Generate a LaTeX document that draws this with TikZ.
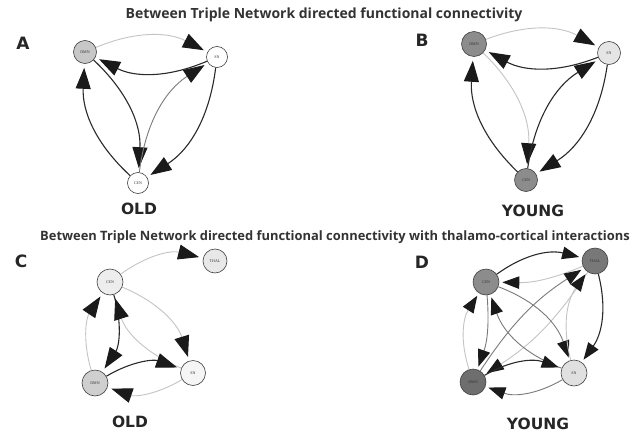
\documentclass[tikz,border=0pt]{standalone}
\usepackage{fontspec}
\setmainfont{Liberation Serif}
\newfontfamily\headfont{Open Sans}
\newfontfamily\tagfont{DejaVu Sans}
\usetikzlibrary{arrows.meta}

\definecolor{edgedark}{HTML}{2A2A2A}
\definecolor{edgemid}{HTML}{7A7A7A}
\definecolor{edgelight}{HTML}{C4C4C4}
\definecolor{tipcol}{HTML}{1A1A1A}

\begin{document}
\begin{tikzpicture}[x=1pt,y=-1pt,
  net/.style={circle, draw=black!75, line width=0.6pt, inner sep=0pt,
    font=\fontsize{4}{4}\selectfont, text=black!80},
  lnk/.style={bend left=25, shorten >=4pt,
    -{Triangle[length=21pt,width=15pt,color=tipcol]}},
  lnksmall/.style={bend left=25, shorten >=3pt,
    -{Triangle[length=17pt,width=12.5pt,color=tipcol]}},
  dk/.style={draw=edgedark, line width=1.1pt},
  md/.style={draw=edgemid, line width=0.9pt},
  lt/.style={draw=edgelight, line width=0.9pt},
  heading/.style={font=\headfont\bfseries\fontsize{14}{16}\selectfont, text=black!80},
  headingwide/.style={font=\headfont\bfseries\fontsize{12.9}{15}\selectfont, text=black!80},
  paneltag/.style={font=\tagfont\bfseries\fontsize{17}{17}\selectfont, text=black!85},
  grouptag/.style={font=\tagfont\bfseries\fontsize{15.5}{16}\selectfont, text=black!85}]

\useasboundingbox (0,0) rectangle (644,436);
\fill[white] (0,0) rectangle (644,436);

% headings
\node[heading] (h1) at (324,15) {Between Triple Network directed functional connectivity};
\node[headingwide] (h2) at (335,237) {Between Triple Network directed functional connectivity with thalamo-cortical interactions};

% ---------- A : old, triple network ----------
\node[paneltag] (tA) at (23,43) {A};
\node[net, fill=black!22, minimum size=23pt] (aD) at (85,52) {DMN};
\node[net, fill=white, minimum size=21pt] (aS) at (217,57) {SN};
\node[net, fill=white, minimum size=21pt] (aC) at (138,183) {CEN};
\node[grouptag] (gA) at (139,209) {OLD};

\draw[lnk, lt] (aD) to (aS);
\draw[lnk, dk] (aS) to (aD);
\draw[lnk, dk] (aD) to (aC);
\draw[lnk, dk] (aC) to (aD);
\draw[lnk, md] (aC) to (aS);
\draw[lnk, dk] (aS) to (aC);

% ---------- B : young, triple network ----------
\node[paneltag] (tB) at (422,40) {B};
\node[net, fill=black!45, minimum size=25pt] (bD) at (474,44) {DMN};
\node[net, fill=black!10, minimum size=23pt] (bS) at (609,53) {SN};
\node[net, fill=black!45, minimum size=23pt] (bC) at (526,180) {CEN};
\node[grouptag] (gB) at (533,211) {YOUNG};

\draw[lnk, lt] (bD) to (bS);
\draw[lnk, dk] (bS) to (bD);
\draw[lnk, lt] (bD) to (bC);
\draw[lnk, dk] (bC) to (bD);
\draw[lnk, dk] (bC) to (bS);
\draw[lnk, dk] (bS) to (bC);

% ---------- C : old, with thalamus ----------
\node[paneltag] (tC) at (21,261) {C};
\node[net, fill=black!7, minimum size=26pt] (cC) at (110,282) {CEN};
\node[net, fill=black!9, minimum size=24pt] (cT) at (215,261) {THAL};
\node[net, fill=black!19, minimum size=26pt] (cD) at (95,383) {DMN};
\node[net, fill=black!4, minimum size=25pt] (cS) at (193,373) {SN};
\node[grouptag] (gC) at (130,422) {OLD};

\draw[lnk, lt] (cC) to (cT);
\draw[lnk, dk] (cC) to (cD);
\draw[lnk, lt] (cD) to (cC);
\draw[lnk, lt] (cC) to (cS);
\draw[lnk, lt] (cS) to (cC);
\draw[lnk, dk] (cD) to (cS);
\draw[lnk, lt] (cS) to (cD);

% ---------- D : young, with thalamus ----------
\node[paneltag] (tD) at (422,262) {D};
\node[net, fill=black!45, minimum size=26pt] (dC) at (486,282) {CEN};
\node[net, fill=black!53, minimum size=26pt] (dT) at (595,261) {THAL};
\node[net, fill=black!57, minimum size=26pt] (dD) at (473,382) {DMN};
\node[net, fill=black!12, minimum size=26pt] (dS) at (574,373) {SN};
\node[grouptag] (gD) at (538,424) {YOUNG};

\draw[lnksmall, dk] (dC) to (dT);
\draw[lnksmall, lt] (dT) to[bend left=12] (dC);
\draw[lnksmall, md] (dD) to[bend left=12] (dT);
\draw[lnksmall, lt] (dT) to[bend left=12] (dD);
\draw[lnksmall, md] (dC) to (dS);
\draw[lnksmall, md] (dS) to (dC);
\draw[lnksmall, dk] (dT) to (dS);
\draw[lnksmall, lt] (dS) to (dT);
\draw[lnksmall, md] (dC) to[bend left=12] (dD);
\draw[lnksmall, lt] (dD) to (dC);
\draw[lnksmall, dk] (dD) to (dS);
\draw[lnksmall, md] (dS) to (dD);

\end{tikzpicture}
\end{document}
